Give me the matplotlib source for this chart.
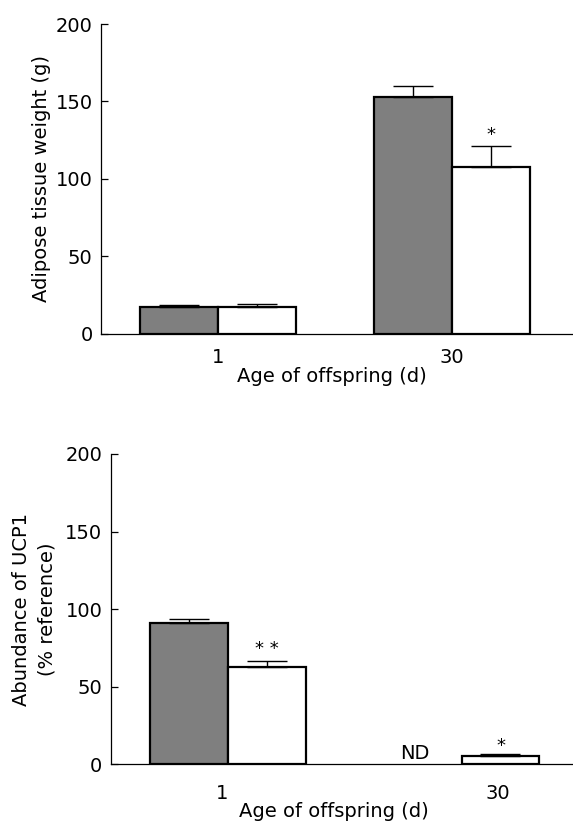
import numpy as np
import matplotlib
matplotlib.use('Agg')
import matplotlib.pyplot as plt

plt.rcParams['font.family'] = ['DejaVu Sans']
plt.rcParams['font.size'] = 14

# age groups (x categories)
ages = ['1', '30']

# top panel: adipose tissue weight (g)
fat_control = [17.6, 152.9]
fat_control_err = [1.3, 7.1]
fat_treated = [17.2, 107.7]
fat_treated_err = [2.3, 13.6]

# bottom panel: UCP1 abundance (% reference), control at 30 d not detected
ucp_control = [91.1, np.nan]
ucp_control_err = [2.6, np.nan]
ucp_treated = [62.7, 5.5]
ucp_treated_err = [4.1, 1.3]

GRAY = '#7f7f7f'
group_pos = np.array([1.5, 4.5])


def draw_panel(ax, ctrl, ctrl_err, trt, trt_err, xlim):
    for vals, errs, color, shift in [(ctrl, ctrl_err, GRAY, -0.5), (trt, trt_err, 'white', 0.5)]:
        x = group_pos + shift
        vals = np.array(vals, dtype=float)
        errs = np.array(errs, dtype=float)
        ok = ~np.isnan(vals)
        ax.bar(x[ok], vals[ok], width=1.0, color=color, edgecolor='black', linewidth=1.6, zorder=2)
        ax.errorbar(x[ok], vals[ok], yerr=[np.zeros(ok.sum()), errs[ok]], fmt='none',
                    ecolor='black', elinewidth=1.0, capsize=14.5, capthick=1.0, zorder=3)

    ax.set_xlim(*xlim)
    ax.set_ylim(0, 200)
    ax.set_yticks([0, 50, 100, 150, 200])
    for s in ['top', 'right']:
        ax.spines[s].set_visible(False)
    for s in ['left', 'bottom']:
        ax.spines[s].set_linewidth(0.9)
    ax.tick_params(axis='y', direction='in', length=5, width=0.9, pad=6)
    ax.tick_params(axis='x', length=0)


fig = plt.figure(figsize=(5.73, 8.22), dpi=100)

ax1 = fig.add_axes([0.1763, 0.5937, 0.8237, 0.3771])
draw_panel(ax1, fat_control, fat_control_err, fat_treated, fat_treated_err, (0, 6.05))
ax1.set_xticks(group_pos, ages)
ax1.tick_params(axis='x', pad=10)
ax1.set_xlabel('Age of offspring (d)')
ax1.xaxis.set_label_coords(0.49, -0.138)
ax1.xaxis.label.set_va('center')
ax1.set_ylabel('Adipose tissue weight (g)')
ax1.yaxis.set_label_coords(-0.126, 0.5)
ax1.yaxis.label.set_va('center')
ax1.text(5.0, 125, '*', ha='center', va='baseline', fontsize=13)

ax2 = fig.add_axes([0.1932, 0.0702, 0.8068, 0.3775])
draw_panel(ax2, ucp_control, ucp_control_err, ucp_treated, ucp_treated_err, (0, 5.93))
ax2.set_xticks([1.43, 4.96], ages)
ax2.tick_params(axis='x', pad=14)
ax2.set_xlabel('Age of offspring (d)')
ax2.xaxis.set_label_coords(0.483, -0.153)
ax2.xaxis.label.set_va('center')
ax2.set_ylabel('Abundance of UCP1\n(% reference)', linespacing=1.45)
ax2.yaxis.set_label_coords(-0.166, 0.5)
ax2.yaxis.label.set_va('center')
ax2.text(2.0, 71, '* *', ha='center', va='baseline', fontsize=13)
ax2.text(5.0, 8.6, '*', ha='center', va='baseline', fontsize=13)
ax2.text(3.9, 3.2, 'ND', ha='center', va='baseline')

fig.savefig('out.png', dpi=100)
